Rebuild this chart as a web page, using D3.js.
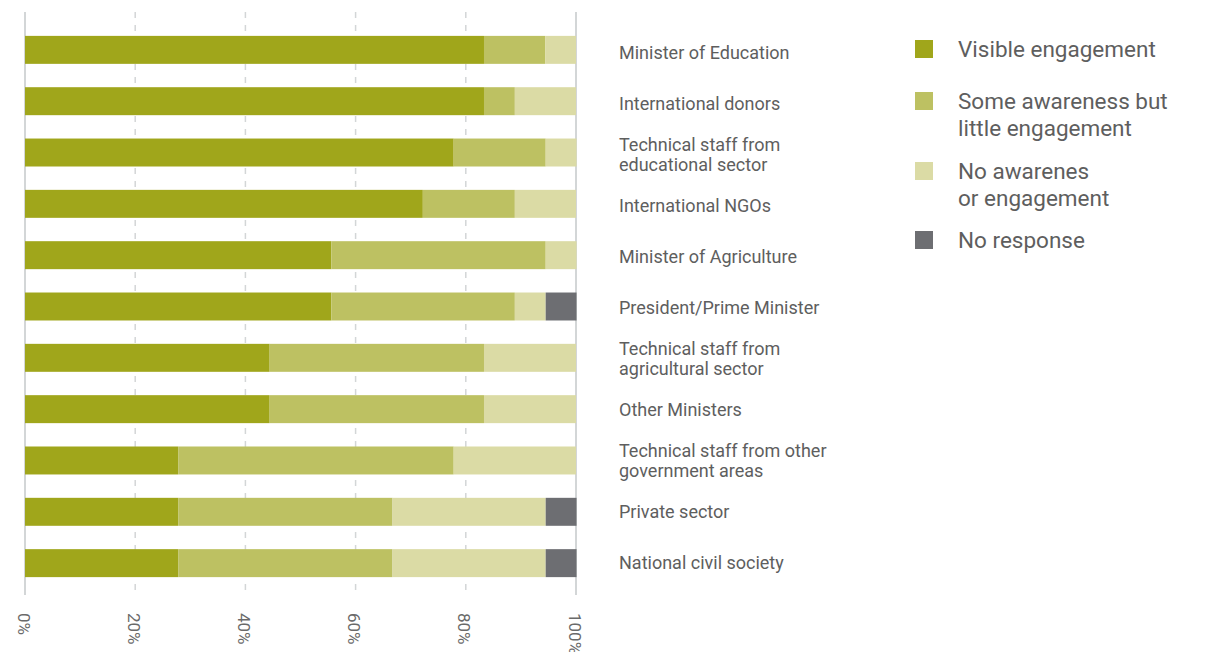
<!DOCTYPE html>
<html>
<head>
<meta charset="utf-8">
<script src="https://cdn.jsdelivr.net/npm/d3@7"></script>
<style>
  html, body { margin: 0; padding: 0; background: #fff; }
  svg { display: block; font-family: Roboto, "Noto Sans", sans-serif; }
</style>
</head>
<body>
<svg id="chart" width="1205" height="652"></svg>
<script>
// Stakeholder groups (top to bottom); "\n" splits a label over two lines
const stakeholders = [
  "Minister of Education",
  "International donors",
  "Technical staff from\neducational sector",
  "International NGOs",
  "Minister of Agriculture",
  "President/Prime Minister",
  "Technical staff from\nagricultural sector",
  "Other Ministers",
  "Technical staff from other\ngovernment areas",
  "Private sector",
  "National civil society"
];

// Share of responses per level of engagement (%)
const visibleEngagement = [83.3, 83.3, 77.8, 72.2, 55.6, 55.6, 44.4, 44.4, 27.8, 27.8, 27.8];
const someAwareness     = [11.1,  5.6, 16.7, 16.7, 38.9, 33.3, 38.9, 38.9, 50.0, 38.9, 38.9];
const noAwareness       = [ 5.6, 11.1,  5.6, 11.1,  5.6,  5.6, 16.7, 16.7, 22.2, 27.8, 27.8];
const noResponse        = [ 0.0,  0.0,  0.0,  0.0,  0.0,  5.6,  0.0,  0.0,  0.0,  5.6,  5.6];

const seriesNames = [
  "Visible engagement",
  "Some awareness but\nlittle engagement",
  "No awarenes\nor engagement",
  "No response"
];
const seriesColors = ["#a0a61b", "#bdc162", "#dbdba5", "#6d6e72"];
const xTicks = [0, 20, 40, 60, 80, 100];

const rows = stakeholders.map((name, i) => ({
  name,
  s0: visibleEngagement[i],
  s1: someAwareness[i],
  s2: noAwareness[i],
  s3: noResponse[i]
}));
const keys = ["s0", "s1", "s2", "s3"];
const stack = d3.stack().keys(keys)(rows);

const svg = d3.select("#chart");

const x = d3.scaleLinear().domain([0, 100]).range([25, 576]);
const y = d3.scaleBand()
  .domain(stakeholders)
  .range([24.2, 588.8])
  .paddingInner(0.455)
  .paddingOuter(0.2275);
// Label column is laid out on its own slightly tighter rhythm
const yLabel = d3.scalePoint()
  .domain(stakeholders)
  .range([52.5, 562.5]);

// Grid: solid edges at 0% and 100%, dashed in between
const grid = svg.append("g");
grid.selectAll("line")
  .data(xTicks)
  .join("line")
  .attr("x1", d => x(d)).attr("x2", d => x(d))
  .attr("y1", 12).attr("y2", 595)
  .attr("stroke", "#d3d6d7")
  .attr("stroke-width", d => (d === 0 || d === 100) ? 2 : 1.5)
  .attr("stroke-dasharray", d => (d === 0 || d === 100) ? null : "6 7");

// Stacked bars
svg.append("g")
  .selectAll("g")
  .data(stack)
  .join("g")
  .attr("fill", (d, i) => seriesColors[i])
  .selectAll("rect")
  .data(d => d)
  .join("rect")
  .attr("x", d => x(d[0]))
  .attr("y", d => y(d.data.name))
  .attr("width", d => Math.max(0, x(d[1]) - x(d[0])))
  .attr("height", y.bandwidth());

// Percentage axis with rotated tick labels
const xAxis = d3.axisBottom(x)
  .tickValues(xTicks)
  .tickFormat(d => d + "%")
  .tickSize(0);
const axisG = svg.append("g")
  .attr("transform", "translate(0,613)")
  .call(xAxis);
axisG.select(".domain").remove();
axisG.selectAll(".tick text")
  .attr("y", 0)
  .attr("x", 0)
  .attr("dy", 0)
  .attr("transform", "rotate(90) translate(0,2)")
  .attr("text-anchor", "start")
  .attr("dominant-baseline", "central")
  .attr("fill", "#6a6a6a")
  .style("font-size", "17px")
  .style("font-family", "Roboto, sans-serif");

// Category labels to the right of the bars
const labels = svg.append("g").attr("fill", "#5e5e5e").style("font-size", "18px");
labels.selectAll("text")
  .data(stakeholders)
  .join("text")
  .attr("x", 619)
  .each(function (d) {
    const lines = d.split("\n");
    const cy = yLabel(d);
    const lh = 20;
    const first = cy - (lines.length - 1) * lh / 2 + 6;
    d3.select(this).selectAll("tspan")
      .data(lines)
      .join("tspan")
      .attr("x", 619)
      .attr("y", (l, j) => first + j * lh)
      .text(l => l);
  });

// Legend
const legendTop = [40, 92, 162, 231];
const legend = svg.append("g");
seriesNames.forEach((name, i) => {
  legend.append("rect")
    .attr("x", 915).attr("y", legendTop[i])
    .attr("width", 18).attr("height", 18)
    .attr("fill", seriesColors[i]);
  const t = legend.append("text")
    .attr("fill", "#5e5e5e")
    .style("font-size", "22.5px");
  name.split("\n").forEach((line, j) => {
    t.append("tspan")
      .attr("x", 958)
      .attr("y", legendTop[i] + 17 + j * 27)
      .text(line);
  });
});
</script>
</body>
</html>
